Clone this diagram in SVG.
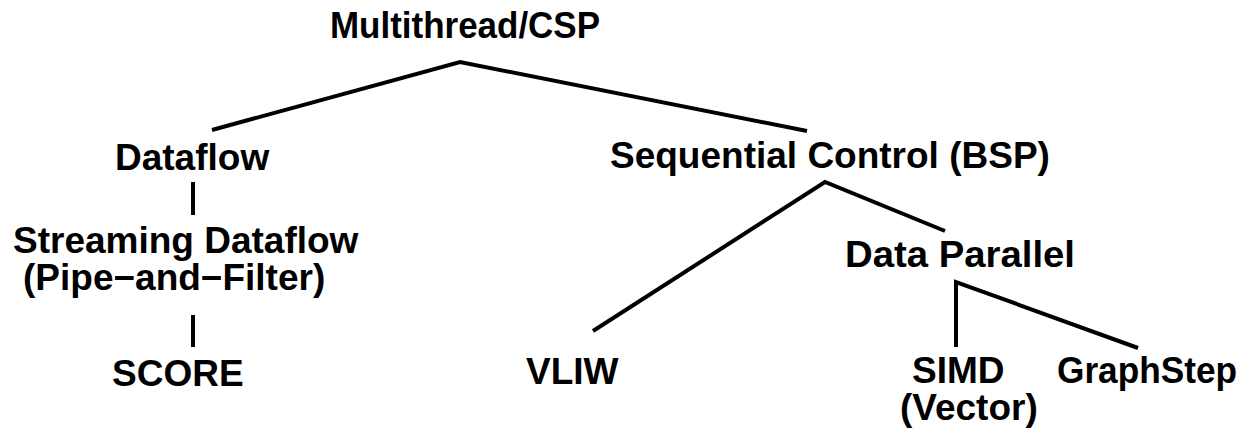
<svg xmlns="http://www.w3.org/2000/svg" width="1255" height="433" viewBox="0 0 1255 433">
<style>
text{font-family:"Liberation Sans",Arial,Helvetica,sans-serif;font-weight:bold;font-size:37px;fill:#000}
.c{stroke:#000;stroke-width:4;fill:none;stroke-linejoin:miter}
</style>
<rect width="1255" height="433" fill="#fff"/>
<g id="connectors">
<polyline class="c" points="212,130 460,62 807,131"/>
<line class="c" x1="193" y1="182" x2="193" y2="215"/>
<line class="c" x1="193" y1="315" x2="193" y2="347"/>
<polyline class="c" points="593,331 825,182 945,231"/>
<polyline class="c" points="956,347 956,282 1138,348"/>
</g>
<g id="n-multithread"><text x="330" y="38" textLength="270" lengthAdjust="spacingAndGlyphs">Multithread/CSP</text></g>
<g id="n-dataflow"><text x="115" y="170">Dataflow</text></g>
<g id="n-sequential"><text x="610" y="168">Sequential Control (BSP)</text></g>
<g id="n-streaming"><text x="13" y="253">Streaming Dataflow</text><text x="23" y="290">(Pipe−and−Filter)</text></g>
<g id="n-score"><text x="112" y="386">SCORE</text></g>
<g id="n-vliw"><text x="526" y="384">VLIW</text></g>
<g id="n-dataparallel"><text x="845" y="267" textLength="230" lengthAdjust="spacingAndGlyphs">Data Parallel</text></g>
<g id="n-simd"><text x="912" y="383">SIMD</text><text x="900" y="420">(Vector)</text></g>
<g id="n-graphstep"><text x="1057" y="383" textLength="180" lengthAdjust="spacingAndGlyphs">GraphStep</text></g>
</svg>
